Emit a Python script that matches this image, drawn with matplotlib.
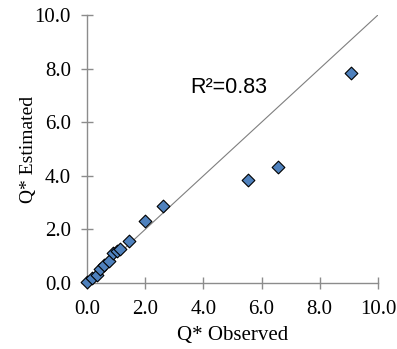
import matplotlib
matplotlib.use('Agg')
import matplotlib.pyplot as plt

observed = [0.01, 0.16, 0.33, 0.45, 0.6, 0.75, 0.9, 1.02, 1.14, 1.43, 2.0, 2.63, 5.55, 6.55, 9.07]
estimated = [0.05, 0.2, 0.3, 0.52, 0.66, 0.82, 1.11, 1.2, 1.28, 1.58, 2.32, 2.88, 3.86, 4.32, 7.85]
ticks = [0, 2, 4, 6, 8, 10]
r2_label = 'R²=0.83'

fig = plt.figure(figsize=(3.97, 3.49), dpi=100)
ax = fig.add_axes([0.219, 0.189, 0.733, 0.768])

axis_gray = '#8c8c8c'
ax.plot([0, 10], [0, 10], color='#7f7f7f', linewidth=0.8, zorder=1)
ax.scatter(observed, estimated, marker='D', s=42, color='#4f81bd',
           edgecolors='black', linewidths=0.8, zorder=3, clip_on=False)

ax.text(3.55, 7.3, r2_label, fontsize=15.5, family='Liberation Sans',
        va='center', ha='left')

ax.set_xlim(0, 10)
ax.set_ylim(0, 10)
ax.set_xticks(ticks)
ax.set_yticks(ticks)
ax.set_xticklabels(['%.1f' % t for t in ticks])
ax.set_yticklabels(['%.1f' % t for t in ticks])

for side in ['top', 'right']:
    ax.spines[side].set_visible(False)
for side in ['left', 'bottom']:
    ax.spines[side].set_color(axis_gray)
    ax.spines[side].set_linewidth(1.0)

ax.tick_params(direction='inout', length=9, width=1.0, color=axis_gray,
               labelsize=15)
ax.tick_params(axis='x', pad=8)
ax.tick_params(axis='y', pad=7)
for lbl in ax.get_xticklabels() + ax.get_yticklabels():
    lbl.set_family('Liberation Serif')

ax.set_xlabel('Q* Observed', fontsize=15, family='Liberation Serif', labelpad=5)
ax.set_ylabel('Q* Estimated', fontsize=14, family='Liberation Serif', labelpad=-2)

fig.savefig('out.png', dpi=100)
